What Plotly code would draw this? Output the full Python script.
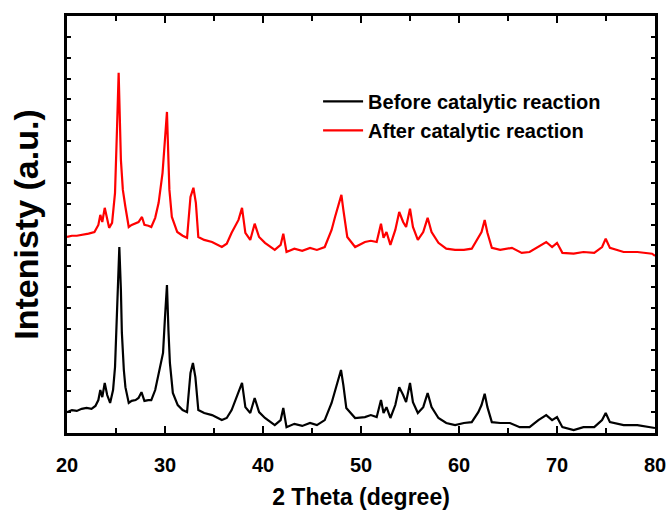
import plotly.graph_objects as go

# 2-theta positions (degree) and intensities (a.u.)
theta_before = [20.0, 20.5, 21.0, 21.5, 22.0, 22.5, 22.9, 23.2, 23.4, 23.6, 23.85, 24.1, 24.4, 24.7, 24.9,
                25.1, 25.34, 25.5, 25.6, 25.8, 25.96, 26.3, 26.6, 27.0, 27.3, 27.6, 27.9, 28.3, 28.6, 29.0,
                29.35, 29.8, 30.0, 30.2, 30.35, 30.5, 30.8, 31.3, 31.8, 32.25, 32.6, 32.85, 33.1, 33.4, 34.0,
                34.8, 35.8, 36.3, 36.8, 37.5, 37.86, 38.2, 38.7, 39.15, 39.6, 40.2, 41.2, 41.8, 42.07, 42.4,
                43.2, 44.0, 44.8, 45.5, 46.3, 47.0, 47.35, 47.7, 47.96, 48.2, 48.5, 49.4, 50.4, 51.0, 51.6,
                52.04, 52.3, 52.6, 53.0, 53.5, 53.9, 54.3, 54.6, 55.0, 55.3, 55.8, 56.35, 56.8, 57.2, 57.9,
                58.7, 59.6, 60.5, 61.3, 61.97, 62.3, 62.62, 62.9, 63.35, 64.2, 65.2, 66.2, 67.2, 68.1, 68.9,
                69.5, 70.0, 70.55, 71.7, 72.7, 73.8, 74.6, 74.97, 75.4, 76.8, 78.2, 79.7, 80.0]
int_before = [50, 55, 53, 58, 60, 58, 65, 79, 103, 86, 120, 91, 72, 103, 158,
              295, 446, 343, 240, 151, 110, 72, 77, 79, 84, 98, 77, 79, 79, 103,
              144, 192, 278, 355, 247, 168, 96, 67, 55, 50, 144, 168, 134, 55, 48,
              43, 31, 36, 55, 96, 120, 62, 48, 84, 50, 36, 19, 31, 60, 14,
              22, 17, 24, 19, 31, 72, 103, 127, 151, 115, 60, 36, 38, 43, 38,
              79, 48, 62, 36, 67, 110, 91, 74, 120, 74, 48, 62, 96, 62, 36,
              24, 19, 24, 26, 50, 67, 94, 62, 26, 24, 24, 14, 14, 31, 43,
              31, 38, 14, 7, 14, 14, 31, 48, 26, 19, 19, 14, 12]

theta_after = [20.0, 20.5, 21.0, 21.6, 22.2, 22.8, 23.2, 23.4, 23.6, 23.85, 24.1, 24.3, 24.6, 24.9, 25.1,
               25.27, 25.5, 25.7, 25.96, 26.3, 26.6, 27.0, 27.3, 27.65, 27.9, 28.3, 28.6, 29.0, 29.35, 29.75,
               30.0, 30.2, 30.35, 30.45, 30.7, 31.25, 31.8, 32.25, 32.6, 32.9, 33.15, 33.4, 34.0, 34.8, 35.8,
               36.3, 36.8, 37.5, 37.86, 38.2, 38.7, 39.15, 39.6, 40.2, 41.2, 41.8, 42.07, 42.4, 43.2, 44.0,
               44.8, 45.5, 46.3, 47.0, 47.35, 47.7, 48.0, 48.2, 48.6, 49.4, 50.4, 51.0, 51.6, 52.04, 52.3,
               52.6, 53.0, 53.5, 53.9, 54.3, 54.6, 55.0, 55.3, 55.8, 56.35, 56.8, 57.2, 57.9, 58.7, 59.6,
               60.5, 61.3, 61.97, 62.3, 62.62, 62.9, 63.35, 64.2, 65.4, 66.4, 67.2, 68.1, 68.9, 69.5, 70.0,
               70.55, 71.7, 72.7, 73.8, 74.6, 74.97, 75.4, 76.8, 78.2, 79.7, 80.0]
int_after = [470, 473, 473, 475, 478, 482, 499, 523, 506, 540, 511, 492, 504, 576, 727,
             864, 655, 583, 542, 494, 499, 502, 506, 518, 499, 497, 494, 516, 552, 624,
             703, 770, 655, 583, 518, 482, 473, 468, 566, 588, 552, 470, 463, 458, 446,
             454, 480, 511, 540, 480, 463, 502, 470, 456, 439, 451, 478, 434, 442, 437,
             444, 439, 446, 487, 518, 547, 571, 535, 470, 446, 458, 461, 458, 502, 468,
             482, 451, 487, 530, 506, 494, 538, 494, 463, 482, 516, 482, 456, 442, 439,
             439, 442, 468, 482, 511, 480, 444, 439, 444, 432, 434, 446, 458, 446, 456,
             432, 430, 434, 432, 446, 466, 444, 434, 434, 430, 425]

x_ticks = [20, 30, 40, 50, 60, 70, 80]

bold = dict(family="Liberation Sans, Arial, sans-serif", color="black", weight="bold")

fig = go.Figure()
fig.add_trace(go.Scatter(x=theta_before, y=int_before, mode="lines",
                         name="Before catalytic reaction",
                         line=dict(color="black", width=2.2)))
fig.add_trace(go.Scatter(x=theta_after, y=int_after, mode="lines",
                         name="After catalytic reaction",
                         line=dict(color="red", width=2.2)))

fig.update_layout(
    width=669, height=523,
    margin=dict(l=67, r=14, t=16, b=90),
    plot_bgcolor="white", paper_bgcolor="white",
    showlegend=True,
    legend=dict(x=0.427, y=0.842, xanchor="left", yanchor="top",
                bgcolor="rgba(0,0,0,0)", font=dict(size=20, **bold),
                tracegroupgap=0, itemwidth=40),
    xaxis=dict(range=[20, 80], tickvals=x_ticks, ticktext=[str(v) for v in x_ticks],
               ticks="inside", ticklen=7, tickwidth=2, tickcolor="black",
               minor=dict(dtick=5, ticks="inside", ticklen=5, tickwidth=2, tickcolor="black"),
               showline=True, linewidth=2.5, linecolor="black", mirror="allticks",
               showgrid=False, zeroline=False, automargin=False,
               tickfont=dict(size=20, **bold), ticklabelstandoff=12,
               title=dict(text="2 Theta (degree)", font=dict(size=23, **bold), standoff=15)),
    yaxis=dict(range=[0, 1000], dtick=50, ticks="inside", ticklen=4, tickwidth=2,
               tickcolor="black", showticklabels=False,
               showline=True, linewidth=2.5, linecolor="black", mirror="allticks",
               showgrid=False, zeroline=False, automargin=False,
               title=dict(text="Intenisty (a.u.)", font=dict(size=34, **bold), standoff=16)),
)

fig.write_html("out.html", config={"displayModeBar": False},
               post_script="document.body.style.margin='0';document.body.style.overflow='hidden';")
